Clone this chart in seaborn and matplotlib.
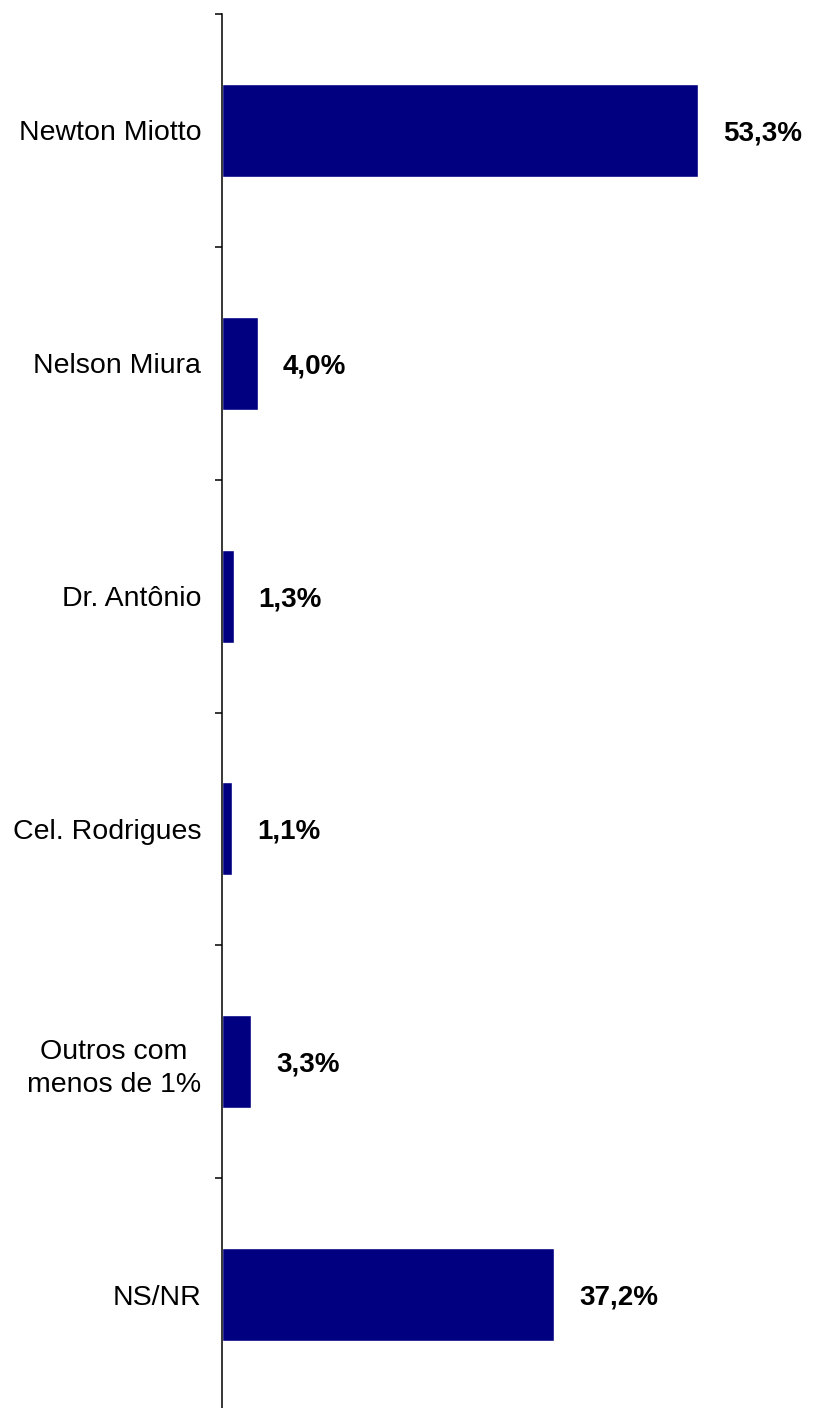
"""
Horizontal bar chart of voting intention
"""

import pandas as pd
import seaborn as sns
import matplotlib.pyplot as plt

# data
candidates = ["Newton Miotto", "Nelson Miura", "Dr. Antônio", "Cel. Rodrigues",
              "Outros com\nmenos de 1%", "NS/NR"]
percent = [53.3, 4.0, 1.3, 1.1, 3.3, 37.2]
value_labels = ["53,3%", "4,0%", "1,3%", "1,1%", "3,3%", "37,2%"]

df = pd.DataFrame({"Candidato": candidates, "Percentual": percent})

sns.set_style("white")
plt.rcParams["font.family"] = ["Liberation Sans", "DejaVu Sans"]

W, H = 816, 1408
fig = plt.figure(figsize=(W / 100, H / 100), dpi=100)
ax = fig.add_axes([222 / W, -3 / H, (W - 222) / W, 1397 / H])

sns.barplot(data=df, y="Candidato", x="Percentual", orient="h",
            color="#000080", width=0.4, saturation=1, ax=ax)

ax.set_xlim(0, 66.5)
ax.set_ylim(5.5, -0.5)

# value labels right of the bars
for i, (v, lab) in enumerate(zip(percent, value_labels)):
    ax.text(v + 2.8, i, lab, va="center_baseline", ha="left",
            fontsize=20, fontweight="bold", color="black")

# spines / ticks
for s in ["top", "right", "bottom"]:
    ax.spines[s].set_visible(False)
ax.spines["left"].set_color("black")
ax.spines["left"].set_linewidth(1.1)
ax.xaxis.set_visible(False)
ax.set_xlabel("")
ax.set_ylabel("")

ax.set_yticks(range(len(candidates)))
ax.set_yticklabels(candidates, fontsize=20.5, ha="right", multialignment="center",
                   color="black", linespacing=1.35)
ax.tick_params(axis="y", which="major", left=False, length=0, pad=15)
ax.set_yticks([i - 0.5 for i in range(len(candidates) + 1)], minor=True)
ax.tick_params(axis="y", which="minor", left=True, length=5, width=1.1,
               color="black")

fig.savefig("out.png", dpi=100)
plt.close()
